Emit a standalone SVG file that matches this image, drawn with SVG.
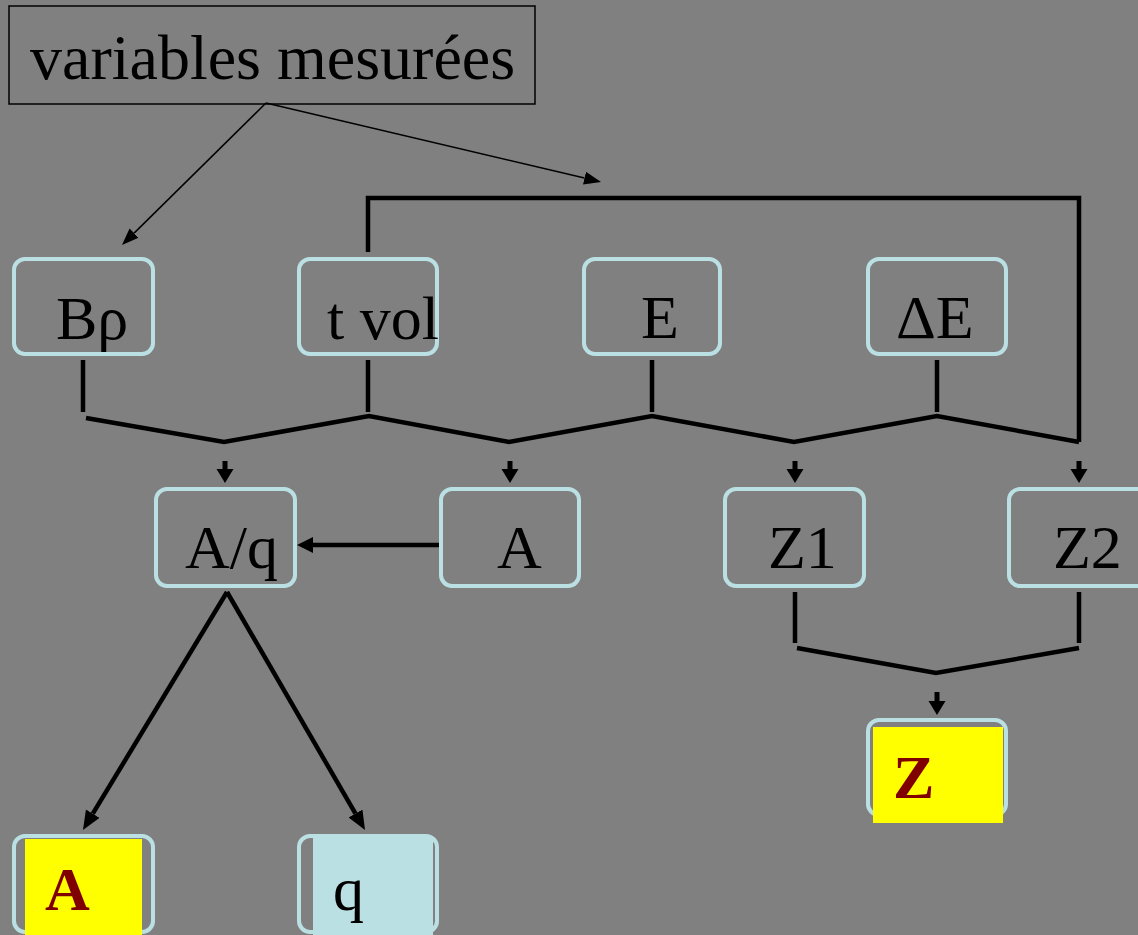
<svg xmlns="http://www.w3.org/2000/svg" width="1138" height="935" viewBox="0 0 1138 935">
<style>
.node{fill:none;stroke:#bbe0e3;stroke-width:4}
.lbl{font-family:"Liberation Serif","Times New Roman",serif;font-size:62px;fill:#000}
.res{font-family:"Liberation Serif","Times New Roman",serif;font-size:62px;font-weight:bold;fill:#800000}
.thick{fill:none;stroke:#000;stroke-width:4.5}
.thin{fill:none;stroke:#000;stroke-width:1.5}
.tick{fill:none;stroke:#000;stroke-width:5}
</style>
<defs>
<marker id="hs" markerUnits="userSpaceOnUse" markerWidth="16" markerHeight="18" refX="0" refY="8.5" orient="auto"><path d="M0,0 L14,8.5 L0,17 z" fill="#000"/></marker>
<marker id="hb" markerUnits="userSpaceOnUse" markerWidth="22" markerHeight="18" refX="0" refY="8" orient="auto"><path d="M0,0 L19,8 L0,16 z" fill="#000"/></marker>
<marker id="hh" markerUnits="userSpaceOnUse" markerWidth="18" markerHeight="18" refX="0" refY="8" orient="auto"><path d="M0,0 L16,8 L0,16 z" fill="#000"/></marker>
<marker id="ht" markerUnits="userSpaceOnUse" markerWidth="20" markerHeight="14" refX="0" refY="6.5" orient="auto"><path d="M0,0 L17,6.5 L0,13 z" fill="#000"/></marker>
</defs>
<rect width="1138" height="935" fill="#808080"/>
<g id="connectors">
<path class="thin" d="M266,103 L134.1,233.1" marker-end="url(#ht)"/>
<path class="thin" d="M266,103 L584.5,178.1" marker-end="url(#ht)"/>
<path class="thick" d="M368,252 L368,198 L1079,198 L1079,442"/>
<path class="thick" d="M83,360 V412 M368,360 V412 M652,360 V412 M937,360 V412"/>
<path class="thick" d="M86,418 L224,442 L369,416 L509,442 L652,416 L794,442 L937,416 L1079,442"/>
<path class="tick" d="M225,461 V469" marker-end="url(#hs)"/>
<path class="tick" d="M510,461 V469" marker-end="url(#hs)"/>
<path class="tick" d="M795,461 V469" marker-end="url(#hs)"/>
<path class="tick" d="M1079,461 V469" marker-end="url(#hs)"/>
<path class="thick" d="M440,545 L313,545" marker-end="url(#hh)"/>
<path class="thick" d="M795,592 V643 M1079,592 V643"/>
<path class="thick" d="M797,648 L936,673 L1079,648"/>
<path class="tick" d="M937,692 V701" marker-end="url(#hs)"/>
<path class="thick" d="M227,592 L92.8,813.7" marker-end="url(#hb)"/>
<path class="thick" d="M227,592 L355.5,813.6" marker-end="url(#hb)"/>
</g>
<g id="title">
<rect x="9" y="6" width="526" height="98" fill="none" stroke="#000" stroke-width="1.5"/>
<text x="30" y="79" style="font-family:'Liberation Serif','Times New Roman',serif;font-size:64px">variables mesurées</text>
</g>
<g id="n-brho"><rect class="node" x="14" y="259" width="139" height="95" rx="11"/><text class="lbl" x="56" y="339">Bρ</text></g>
<g id="n-tvol"><rect class="node" x="299" y="259" width="138" height="95" rx="11"/><text class="lbl" x="327" y="339">t vol</text></g>
<g id="n-e"><rect class="node" x="584" y="259" width="136" height="95" rx="11"/><text class="lbl" x="641" y="338">E</text></g>
<g id="n-de"><rect class="node" x="868" y="259" width="138" height="95" rx="11"/><text class="lbl" x="896" y="338">ΔE</text></g>
<g id="n-aq"><rect class="node" x="156" y="489" width="139" height="97" rx="11"/><text class="lbl" x="185" y="568">A/q</text></g>
<g id="n-a"><rect class="node" x="441" y="489" width="138" height="97" rx="11"/><text class="lbl" x="497" y="568">A</text></g>
<g id="n-z1"><rect class="node" x="725" y="489" width="139" height="97" rx="11"/><text class="lbl" x="768" y="568">Z1</text></g>
<g id="n-z2"><rect class="node" x="1009" y="489" width="139" height="97" rx="11"/><text class="lbl" x="1053" y="568">Z2</text></g>
<g id="n-z"><rect class="node" x="868" y="720" width="138" height="95" rx="11"/><rect x="873" y="727" width="130" height="96" fill="#ffff00"/><text class="res" x="893" y="798">Z</text></g>
<g id="n-afinal"><rect class="node" x="14" y="836" width="139" height="96" rx="11"/><rect x="25" y="839" width="117" height="96" fill="#ffff00"/><text class="res" x="45" y="910">A</text></g>
<g id="n-q"><rect class="node" x="299" y="836" width="138" height="96" rx="11"/><rect x="313" y="836" width="120" height="99" fill="#bbe0e3"/><text class="lbl" x="333" y="910">q</text></g>
</svg>
